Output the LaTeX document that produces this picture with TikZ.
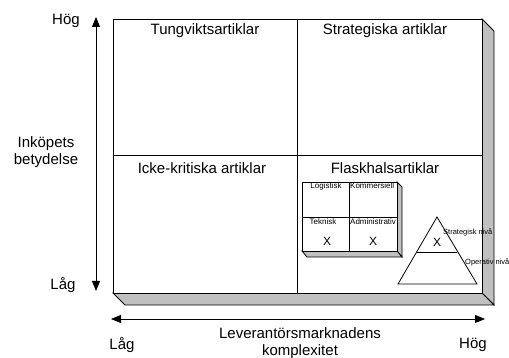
\documentclass[tikz,border=0pt]{standalone}
\usepackage{fontspec}
\setmainfont{Liberation Sans}
\usetikzlibrary{arrows.meta}
\definecolor{shade}{RGB}{192,192,192}
\tikzset{
  edge/.style={draw=black, line width=0.8pt, line join=miter},
  face/.style={edge, fill=shade},
  biglabel/.style={font=\fontsize{15}{17}\selectfont, inner sep=0pt, align=center},
  smalllabel/.style={font=\fontsize{8}{9}\selectfont, inner sep=0pt},
  levellabel/.style={font=\fontsize{7.5}{8}\selectfont, inner sep=0pt, anchor=west},
  cross/.style={font=\fontsize{12}{13}\selectfont, inner sep=0pt},
  axis/.style={line width=0.8pt, {Triangle[length=10pt,width=8pt]}-{Triangle[length=10pt,width=8pt]}}
}
\begin{document}
\begin{tikzpicture}[x=1pt,y=-1pt]
\useasboundingbox (0,0) rectangle (509,358);

% extruded matrix frame
\draw[face] (482,19) -- (494,31) -- (494,305) -- (482,293) -- cycle;
\draw[face] (113,293) -- (125,305) -- (494,305) -- (482,293) -- cycle;
\draw[edge, fill=white] (113,19) rectangle (482,293);
\draw[edge] (297,19) -- (297,293);
\draw[edge] (113,155) -- (482,155);

% quadrant titles
\node[biglabel] (q1) at (205,31) {Tungviktsartiklar};
\node[biglabel] (q2) at (385,31) {Strategiska artiklar};
\node[biglabel] (q3) at (202,168) {Icke-kritiska artiklar};
\node[biglabel] (q4) at (385,168) {Flaskhalsartiklar};

% small extruded 2x2 box
\draw[face] (397,182) -- (402,187) -- (402,257) -- (397,251) -- cycle;
\draw[face] (302,251) -- (307,257) -- (402,257) -- (397,251) -- cycle;
\draw[edge, fill=white] (302,182) rectangle (397,251);
\draw[edge] (349,182) -- (349,251);
\draw[edge] (302,217) -- (397,217);
\node[smalllabel] (log) at (326,186) {Logistisk};
\node[smalllabel, anchor=west] (kom) at (350,186) {Kommersiell};
\node[smalllabel] (tek) at (323,222) {Teknisk};
\node[smalllabel, anchor=west] (adm) at (350,222) {Administrativ};
\node[cross] (x1) at (327,241) {X};
\node[cross] (x2) at (373,241) {X};

% level triangle
\coordinate (apex) at (437,217);
\coordinate (bl) at (398,284);
\coordinate (br) at (477,284);
\draw[edge, fill=white] (apex) -- (br) -- (bl) -- cycle;
\draw[edge] (417,252) -- (457,252);
\node[cross] (x3) at (437,242) {X};
\node[levellabel] (strat) at (443,232) {Strategisk nivå};
\node[levellabel] (oper) at (465,262) {Operativ nivå};

% vertical axis
\coordinate (vtop) at (96,17);
\coordinate (vbot) at (96,291);
\draw[axis] (vbot) -- (vtop);
\node[biglabel] (vhigh) at (66,21) {Hög};
\node[biglabel] (vlow) at (63,285) {Låg};
\node[biglabel] (vname) at (46,152) {Inköpets\\betydelse};

% horizontal axis
\coordinate (hleft) at (111,319);
\coordinate (hright) at (485,319);
\draw[axis] (hleft) -- (hright);
\node[biglabel] (hlow) at (122,345) {Låg};
\node[biglabel] (hhigh) at (473,345) {Hög};
\node[biglabel] (hname) at (300,343) {Leverantörsmarknadens\\komplexitet};
\end{tikzpicture}
\end{document}
